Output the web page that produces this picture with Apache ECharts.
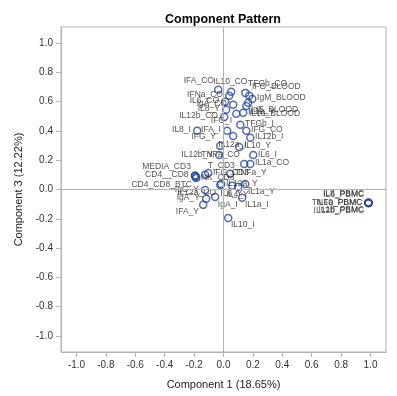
<!DOCTYPE html>
<html>
<head>
<meta charset="utf-8">
<script src="https://cdn.jsdelivr.net/npm/echarts@6/dist/echarts.min.js"></script>
<style>html,body{margin:0;padding:0;background:#fff}#c{width:397px;height:396px}</style>
</head>
<body>
<div id="c"></div>
<script>
// ---- data ----
const names = [
  'IFA_CO','IL10_CO','TFGb_CO','IFNa_CO','IFG_BLOOD','IL6_CO','IgM_BLOOD','IgA_CO','IgE_BLOOD','IL8_Y',
  'IL1b_Y','IL10_BLOOD','IL12b_CO','IFG_I','TFGb_I','IL8_I','IFA_I','IFG_CO','IL12a_I','IFG_Y',
  'IL12b_I','IL10_Y','IL12b_Y','IL6_I','TNFa_CO','IL1a_CO','MEDIA_CD3','CD4__CD8','CD4_CD8_BTC','T_CD3',
  'NK_CD3','IFG_CD3','TNFa_Y','IL12a_Y','IgG_Y','IL12a_CO','IL6_Y','IL4_Y','IL1a_Y','IgA_Y',
  'IFA_Y','IgA_I','IL1a_I','IL10_I',
  'IL6_PBMC','IL8_PBMC','TNFa_PBMC','IL10_PBMC','IL12b_PBMC','IL1b_PBMC'
];
const comp1 = [
  -0.036,0.052,0.148,0.039,0.175,0.012,0.196,0.066,0.168,0.018,
  0.134,0.155,0.005,0.087,0.114,-0.179,0.025,0.155,0.066,-0.022,
  0.182,0.107,-0.029,0.202,0.141,0.182,-0.193,-0.195,-0.186,-0.125,
  -0.186,-0.104,0.046,-0.016,-0.125,-0.022,0.059,0.100,0.148,-0.118,
  -0.138,-0.057,0.127,0.032,
  0.986,0.985,0.987,0.986,0.985,0.986
];
const comp3 = [
  0.681,0.667,0.660,0.640,0.640,0.599,0.619,0.579,0.592,0.544,
  0.524,0.571,0.496,0.517,0.442,0.401,0.401,0.401,0.366,0.298,
  0.353,0.291,0.236,0.236,0.175,0.175,0.093,0.095,0.086,0.100,
  0.079,0.113,0.107,0.038,-0.003,0.031,0.025,0.018,0.038,-0.064,
  -0.105,-0.051,-0.057,-0.194,
  -0.092,-0.091,-0.092,-0.093,-0.092,-0.091
];
const tickValues = [-1.0,-0.8,-0.6,-0.4,-0.2,0.0,0.2,0.4,0.6,0.8,1.0];

// ---- label placement (style) ----
const labelSide = {
  'IFA_CO':'tl','IL10_CO':'t','TFGb_CO':'tr','IFNa_CO':'l','IFG_BLOOD':'tr','IL6_CO':'l','IgM_BLOOD':'r',
  'IgA_CO':'l','IgE_BLOOD':'br','IL8_Y':'l','IL1b_Y':'r','IL10_BLOOD':'br','IL12b_CO':'l','IFG_I':'bl',
  'TFGb_I':'r','IL8_I':'l','IFA_I':'l','IFG_CO':'r','IL12a_I':'b','IFG_Y':'tl','IL12b_I':'r','IL10_Y':'r',
  'IL12b_Y':'l','IL6_I':'r','TNFa_CO':'tl','IL1a_CO':'r','MEDIA_CD3':'tl','CD4__CD8':'l','CD4_CD8_BTC':'bl',
  'T_CD3':'tr','NK_CD3':'r','IFG_CD3':'r','TNFa_Y':'r','IL12a_Y':'r','IgG_Y':'l','IL12a_CO':'bl',
  'IL6_Y':'b','IL4_Y':'b','IL1a_Y':'br','IgA_Y':'l','IFA_Y':'bl','IgA_I':'br','IL1a_I':'br','IL10_I':'br',
  'IL6_PBMC':'tl','IL8_PBMC':'tl','TNFa_PBMC':'l','IL10_PBMC':'l','IL12b_PBMC':'bl','IL1b_PBMC':'bl'
};
const S = 7, G = 2;
function sideStyle(s){
  switch(s){
    case 'l': return {position:[-G,S/2],align:'right',verticalAlign:'middle'};
    case 'r': return {position:[S+G,S/2],align:'left',verticalAlign:'middle'};
    case 't': return {position:[S/2,-1],align:'center',verticalAlign:'bottom'};
    case 'b': return {position:[S/2,S+1],align:'center',verticalAlign:'top'};
    case 'tl': return {position:[0,0],align:'right',verticalAlign:'bottom'};
    case 'tr': return {position:[S,0],align:'left',verticalAlign:'bottom'};
    case 'bl': return {position:[0,S],align:'right',verticalAlign:'top'};
    default: return {position:[S,S],align:'left',verticalAlign:'top'};
  }
}
const points = names.map((n,i)=>({name:n, value:[comp1[i], comp3[i]], label:sideStyle(labelSide[n])}));

const FONT = '"Liberation Sans", Arial, sans-serif';
const GRAY = '#b3b3b3';
const chart = echarts.init(document.getElementById('c'), null, {renderer:'canvas'});
chart.setOption({
  animation:false,
  backgroundColor:'#fff',
  title:{text:'Component Pattern', left:218, top:8, textAlign:'center',
    textStyle:{fontFamily:FONT, fontSize:12.5, fontWeight:'bold', color:'#000'}},
  grid:{left:61, top:27, right:11, bottom:44, show:true, borderColor:GRAY, borderWidth:1},
  xAxis:{type:'value', min:-1.105, max:1.105,
    name:'Component 1 (18.65%)', nameLocation:'middle', nameGap:27,
    nameTextStyle:{fontFamily:FONT, fontSize:11, color:'#222'},
    axisLine:{show:true, onZero:false, lineStyle:{color:GRAY}},
    axisTick:{show:true, length:5, lineStyle:{color:GRAY}, customValues:tickValues},
    axisLabel:{customValues:tickValues, fontFamily:FONT, fontSize:10, color:'#333', margin:8,
      formatter:v=>v.toFixed(1)},
    splitLine:{show:false}},
  yAxis:{type:'value', min:-1.11, max:1.11,
    name:'Component 3 (12.22%)', nameLocation:'middle', nameGap:37, nameRotate:90,
    nameTextStyle:{fontFamily:FONT, fontSize:11, color:'#222'},
    axisLine:{show:true, onZero:false, lineStyle:{color:GRAY}},
    axisTick:{show:true, length:5, lineStyle:{color:GRAY}, customValues:tickValues},
    axisLabel:{customValues:tickValues, fontFamily:FONT, fontSize:10, color:'#333', margin:8,
      formatter:v=>v.toFixed(1)},
    splitLine:{show:false}},
  series:[{
    type:'scatter',
    data:points,
    symbol:'circle',
    symbolSize:S,
    itemStyle:{color:'rgba(255,255,255,0)', borderColor:'#27479a', borderWidth:1.5},
    label:{show:true, formatter:'{b}', fontFamily:FONT, fontSize:8.5, color:'#2a2620'},
    labelLayout:{hideOverlap:false},
    emphasis:{disabled:true},
    markLine:{silent:true, symbol:'none', animation:false, label:{show:false},
      lineStyle:{color:GRAY, type:'solid', width:1},
      data:[{xAxis:0},{yAxis:0}]},
    z:3
  }]
});
</script>
</body>
</html>
